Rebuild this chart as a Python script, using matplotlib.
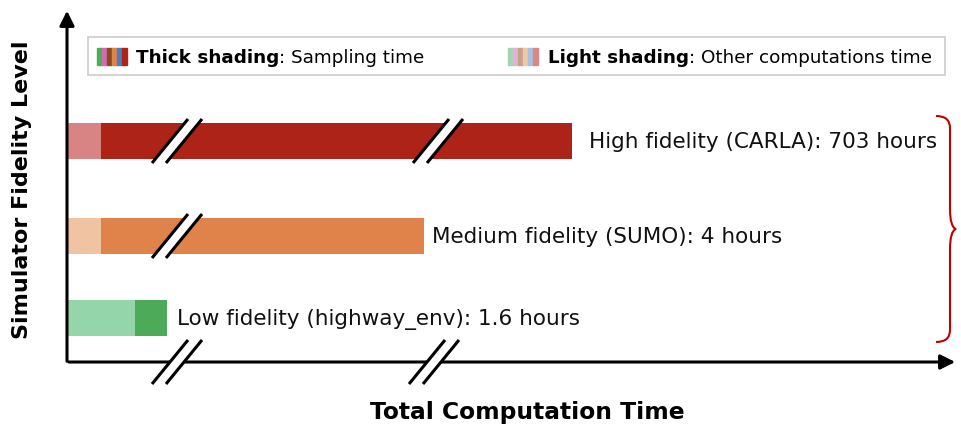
import numpy as np
import matplotlib
matplotlib.use('Agg')
import matplotlib.pyplot as plt
from matplotlib.patches import Polygon, Rectangle, PathPatch
from matplotlib.path import Path

plt.rcParams['font.family'] = ['DejaVu Sans']

## data: schematic bar lengths (the time axis is broken), real hours in the labels
levels = ['Low fidelity (highway_env)', 'Medium fidelity (SUMO)', 'High fidelity (CARLA)']
hours = [1.6, 4, 703]
other_len = [67, 33, 33]          # light shading: other computations
sampling_len = [32, 323, 471]     # thick shading: sampling
thick_colors = ['#4daa58', '#e0834a', '#ae2318']
light_colors = ['#95d5aa', '#f0c3a2', '#d98484']
legend_thick = ['#4caf50', '#d46ab5', '#8b4a1e', '#e0844a', '#4f7cb8', '#b02318']
legend_light = ['#9fd8b0', '#e8b0d8', '#c9a08a', '#f0c8a6', '#a6c2e0', '#d98888']

fig = plt.figure(figsize=(9.61, 4.25), dpi=100)
ax = fig.add_axes([0, 0, 1, 1])
ax.set_xlim(0, 961)
ax.set_ylim(425, 0)
ax.axis('off')

x0 = 68
bar_y = [318, 236, 141]
bar_h = 36
label_gap = [10, 8, 17]

ax.barh(bar_y, other_len, left=x0, height=bar_h, color=light_colors, zorder=2)
ax.barh(bar_y, sampling_len, left=np.add(x0, other_len), height=bar_h, color=thick_colors, zorder=2)

for i, (name, h) in enumerate(zip(levels, hours)):
    ax.text(x0 + other_len[i] + sampling_len[i] + label_gap[i], bar_y[i] + 1,
            f'{name}: {h:g} hours', fontsize=15.5, va='center', ha='left', color='#111111')

# axes with arrows
ax.annotate('', xy=(67, 8), xytext=(67, 364),
            arrowprops=dict(arrowstyle='-|>', lw=2.2, color='black', mutation_scale=22), zorder=3)
ax.annotate('', xy=(958, 362), xytext=(66, 362),
            arrowprops=dict(arrowstyle='-|>', lw=2.2, color='black', mutation_scale=22), zorder=3)


def axis_break(xc, yc, hh):
    dx = hh * 36 / 44
    gap = 7
    pts = [(xc - gap - dx, yc + hh), (xc - gap + dx, yc - hh),
           (xc + gap + dx, yc - hh), (xc + gap - dx, yc + hh)]
    ax.add_patch(Polygon(pts, closed=True, color='white', zorder=4))
    for s in (-gap, gap):
        ax.plot([xc + s - dx, xc + s + dx], [yc + hh, yc - hh], color='black', lw=2.2,
                zorder=5, solid_capstyle='butt')


axis_break(177, 141, 22)
axis_break(438, 141, 22)
axis_break(177, 236, 22)
axis_break(177, 362, 22)
axis_break(434, 362, 22)

# legend box
ax.add_patch(Rectangle((88, 37), 857, 38, fill=False, ec='#cccccc', lw=1.2))
sw = 5
for k, c in enumerate(legend_thick):
    ax.add_patch(Rectangle((97 + k * sw, 48), sw, 17, color=c))
for k, c in enumerate(legend_light):
    ax.add_patch(Rectangle((508 + k * sw, 48), sw, 17, color=c))
t = ax.text(136, 58, 'Thick shading', fontsize=13.2, fontweight='bold', va='center')
ax.annotate(': Sampling time', xycoords=t, xy=(1, 0.5), va='center', fontsize=13.2)
t2 = ax.text(548, 58, 'Light shading', fontsize=13.2, fontweight='bold', va='center')
ax.annotate(': Other computations time', xycoords=t2, xy=(1, 0.5), va='center', fontsize=13.2)

# curly brace
bx, top, bot, tipx = 936, 116, 342, 956
mid = (top + bot) / 2
verts = [(bx, top), (bx + 14, top), (bx + 14, top + 12), (bx + 14, top + 30),
         (bx + 14, mid - 20), (bx + 14, mid - 2), (tipx, mid),
         (bx + 14, mid + 2), (bx + 14, mid + 20), (bx + 14, bot - 30),
         (bx + 14, bot - 12), (bx + 14, bot), (bx, bot)]
codes = [Path.MOVETO, Path.CURVE3, Path.CURVE3, Path.LINETO,
         Path.LINETO, Path.CURVE3, Path.CURVE3,
         Path.CURVE3, Path.CURVE3, Path.LINETO,
         Path.LINETO, Path.CURVE3, Path.CURVE3]
ax.add_patch(PathPatch(Path(verts, codes), fill=False, ec='#c00000', lw=1.5))

ax.text(22, 190, 'Simulator Fidelity Level', rotation=90, fontsize=16, fontweight='bold',
        ha='center', va='center')
ax.text(527, 412, 'Total Computation Time', fontsize=16.8, fontweight='bold',
        ha='center', va='center')

fig.savefig('out.png', dpi=100)
